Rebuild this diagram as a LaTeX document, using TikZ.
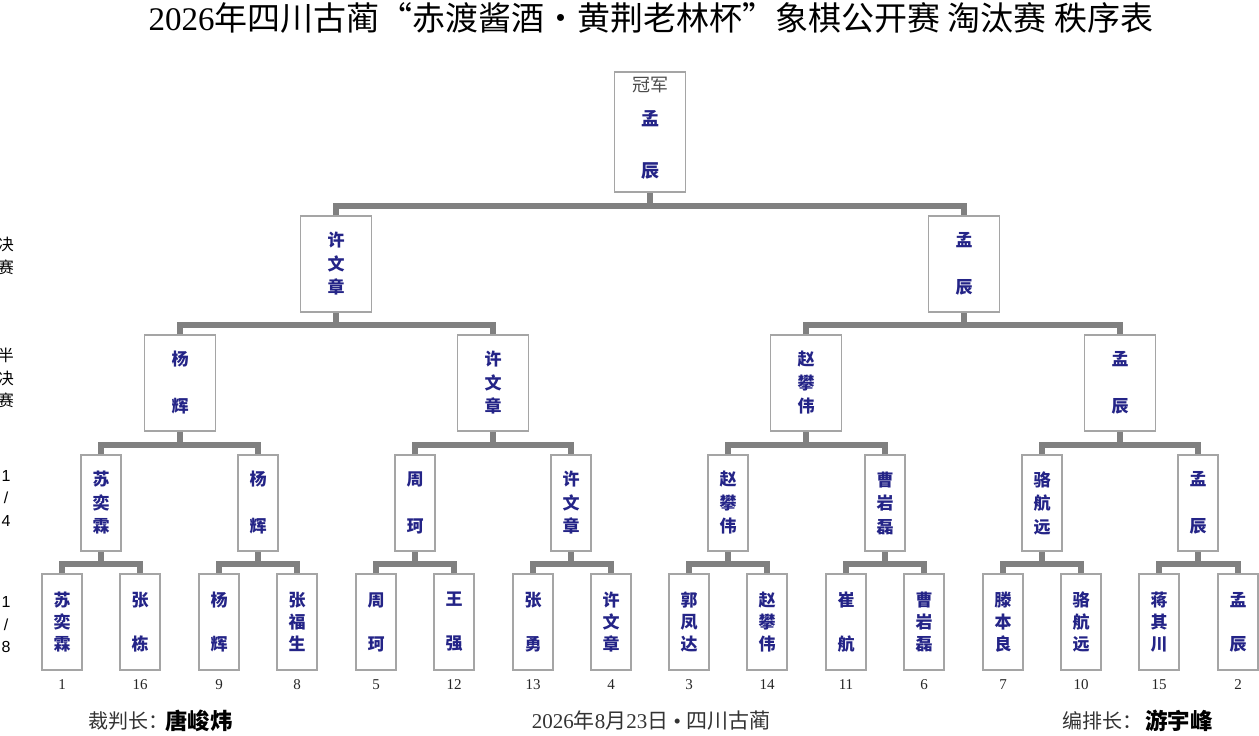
\documentclass[tikz,border=0pt]{standalone}
\usepackage{fontspec}
\setmainfont{Liberation Serif}
\newfontfamily\cjk{Noto Sans CJK SC}
\newfontfamily\lsans{Liberation Sans}
\definecolor{conngray}{RGB}{128,128,128}
\definecolor{boxgray}{RGB}{165,165,165}
\definecolor{navy}{RGB}{36,36,135}
\tikzset{
  box/.style={draw=boxgray, line width=1.2pt, fill=white, minimum width=40, minimum height=96, inner sep=0pt, font=\cjk\bfseries\fontsize{17}{23.5}\selectfont, text=navy, align=center},
  ebox/.style={box, font=\cjk\bfseries\fontsize{17}{22}\selectfont},
  wbox/.style={box, minimum width=71},
  conn/.style={draw=conngray, line width=6pt, line join=miter},
  seed/.style={font=\fontsize{15}{15}\selectfont, text=black!85},
  rlabel/.style={font=\cjk\fontsize{16}{22.5}\selectfont, align=center},
  foot/.style={font=\cjk\fontsize{20}{20}\selectfont, text=black!80, anchor=west, inner sep=0pt},
  footb/.style={font=\cjk\bfseries\fontsize{22.5}{22.5}\selectfont, text=black, anchor=west, inner sep=0pt},
}
\newcommand{\tw}[2]{#1\\\phantom{#1}\\#2}
\begin{document}
\begin{tikzpicture}[x=1pt,y=-1pt]
\useasboundingbox[fill=white] (0,0) rectangle (1259,736);
% title
\node[inner sep=0pt] (title) at (651,18) {\fontsize{33}{33}\selectfont 2026{\cjk 年四川古蔺“赤渡酱酒•黄荆老林杯”象棋公开赛 淘汰赛 秩序表}};
% round labels
\node[rlabel] (l1) at (6,256) {决\\赛};
\node[rlabel] (l2) at (6,378) {半\\决\\赛};
\node[rlabel, font=\lsans\fontsize{16}{22.5}\selectfont] (l3) at (6,498) {1\\/\\4};
\node[rlabel, font=\lsans\fontsize{16}{22.5}\selectfont] (l4) at (6,625) {1\\/\\8};
% champion
\node[wbox, minimum height=120] (champ) at (650,132) {};
\node[font=\cjk\fontsize{18}{18}\selectfont, text=black!70, inner sep=0pt] (champt) at (650,85) {冠军};
\node[font=\cjk\bfseries\fontsize{18}{18}\selectfont, text=navy, inner sep=0pt] (champa) at (650,119) {孟};
\node[font=\cjk\bfseries\fontsize{18}{18}\selectfont, text=navy, inner sep=0pt] (champb) at (650,171) {辰};
% finals
\node[wbox] (f1) at (336,264) {许\\文\\章};
\node[wbox] (f2) at (964,264) {\tw{孟}{辰}};
% semifinals
\node[wbox] (s1) at (180,383) {\tw{杨}{辉}};
\node[wbox] (s2) at (493,383) {许\\文\\章};
\node[wbox] (s3) at (806,383) {赵\\攀\\伟};
\node[wbox] (s4) at (1120,383) {\tw{孟}{辰}};
% quarterfinals
\node[box] (q1) at (101,503) {苏\\奕\\霖};
\node[box] (q2) at (258,503) {\tw{杨}{辉}};
\node[box] (q3) at (415,503) {\tw{周}{珂}};
\node[box] (q4) at (571,503) {许\\文\\章};
\node[box] (q5) at (728,503) {赵\\攀\\伟};
\node[box] (q6) at (885,503) {曹\\岩\\磊};
\node[box] (q7) at (1042,503) {骆\\航\\远};
\node[box] (q8) at (1198,503) {\tw{孟}{辰}};
% eighths
\node[ebox] (e1) at (62,622) {苏\\奕\\霖};
\node[ebox] (e2) at (140,622) {\tw{张}{栋}};
\node[ebox] (e3) at (219,622) {\tw{杨}{辉}};
\node[ebox] (e4) at (297,622) {张\\福\\生};
\node[ebox] (e5) at (376,622) {\tw{周}{珂}};
\node[ebox] (e6) at (454,622) {\tw{王}{强}};
\node[ebox] (e7) at (533,622) {\tw{张}{勇}};
\node[ebox] (e8) at (611,622) {许\\文\\章};
\node[ebox] (e9) at (689,622) {郭\\凤\\达};
\node[ebox] (e10) at (767,622) {赵\\攀\\伟};
\node[ebox] (e11) at (846,622) {\tw{崔}{航}};
\node[ebox] (e12) at (924,622) {曹\\岩\\磊};
\node[ebox] (e13) at (1003,622) {滕\\本\\良};
\node[ebox] (e14) at (1081,622) {骆\\航\\远};
\node[ebox] (e15) at (1159,622) {蒋\\其\\川};
\node[ebox] (e16) at (1238,622) {\tw{孟}{辰}};
% seeds
\foreach \i/\s in {1/1,2/16,3/9,4/8,5/5,6/12,7/13,8/4,9/3,10/14,11/11,12/6,13/7,14/10,15/15,16/2}
  \node[seed] (n\i) at ([yshift=-14pt]e\i.south) {\s};
% connectors
\draw[conn] (f1.north) -- ++(0,-9) -| (champ.south);
\draw[conn] (f2.north) -- ++(0,-9) -| (champ.south);
\foreach \p/\a/\b in {f1/s1/s2, f2/s3/s4, s1/q1/q2, s2/q3/q4, s3/q5/q6, s4/q7/q8,
  q1/e1/e2, q2/e3/e4, q3/e5/e6, q4/e7/e8, q5/e9/e10, q6/e11/e12, q7/e13/e14, q8/e15/e16}{
  \draw[conn] (\a.north) -- ++(0,-9) -| (\p.south);
  \draw[conn] (\b.north) -- ++(0,-9) -| (\p.south);
}
% footer
\node[foot] (ref) at (88,721) {裁判长：};
\node[footb] (refn) at (165,721) {唐峻炜};
\node[inner sep=0pt, font=\fontsize{21}{21}\selectfont, text=black!80] (date) at (651,721) {2026{\cjk 年}8{\cjk 月}23{\cjk 日} • {\cjk 四川古蔺}};
\node[foot] (arr) at (1062,721) {编排长：};
\node[footb] (arrn) at (1145,721) {游宇峰};
\end{tikzpicture}
\end{document}
